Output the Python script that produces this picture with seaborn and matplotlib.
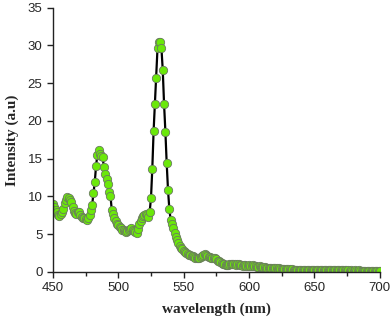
import numpy as np
import pandas as pd
import matplotlib
matplotlib.use("Agg")
import matplotlib.pyplot as plt
import seaborn as sns
from matplotlib.ticker import MultipleLocator

# emission spectrum, sampled every 1 nm from 450 to 700 nm
wavelength = np.arange(450, 701)
intensity = [
    9.0, 8.6, 8.2, 7.9, 7.6, 7.4, 7.7, 8.0, 8.3, 9.2,
    9.6, 9.9, 9.8, 9.6, 9.3, 8.6, 8.1, 7.8, 7.7, 7.9,
    8.0, 7.5, 7.3, 7.2, 7.1, 7.0, 6.9, 7.2, 7.6, 8.2,
    8.9, 10.4, 11.9, 14.1, 15.5, 16.2, 15.6, 15.4, 15.2, 13.9,
    13.0, 12.3, 11.7, 10.6, 10.1, 8.2, 7.7, 7.2, 6.8, 6.4,
    6.2, 6.0, 5.8, 5.6, 5.5, 5.4, 5.3, 5.4, 5.6, 5.7,
    5.8, 5.6, 5.4, 5.3, 5.2, 5.7, 6.3, 6.8, 7.1, 7.4,
    7.6, 7.7, 7.5, 7.3, 8.0, 9.8, 13.7, 18.7, 22.3, 25.7,
    29.7, 30.5, 30.5, 29.6, 26.7, 22.2, 18.6, 14.4, 10.9, 8.4,
    6.9, 6.3, 5.8, 5.2, 4.6, 4.2, 3.9, 3.5, 3.2, 3.0,
    2.8, 2.7, 2.5, 2.4, 2.3, 2.2, 2.1, 2.1, 2.0, 1.9,
    1.9, 1.8, 1.9, 2.0, 2.1, 2.3, 2.4, 2.3, 2.1, 2.0,
    2.0, 1.9, 1.9, 1.8, 1.8, 1.7, 1.5, 1.4, 1.3, 1.2,
    1.1, 1.0, 0.9, 0.9, 0.9, 1.0, 1.1, 1.1, 1.0, 1.0,
    0.9, 1.0, 1.0, 0.9, 0.9, 0.8, 0.9, 0.9, 0.8, 0.8,
    0.9, 0.8, 0.8, 0.9, 0.8, 0.8, 0.7, 0.7, 0.8, 0.7,
    0.6, 0.6, 0.6, 0.5, 0.5, 0.5, 0.5, 0.5, 0.5, 0.5,
    0.5, 0.5, 0.4, 0.5, 0.4, 0.4, 0.4, 0.4, 0.4, 0.4,
    0.4, 0.4, 0.3, 0.4, 0.3, 0.3, 0.3, 0.3, 0.3, 0.3,
    0.3, 0.3, 0.3, 0.3, 0.3, 0.3, 0.3, 0.3, 0.2, 0.3,
    0.3, 0.2, 0.2, 0.3, 0.2, 0.2, 0.2, 0.2, 0.2, 0.2,
    0.2, 0.2, 0.2, 0.2, 0.2, 0.2, 0.2, 0.2, 0.2, 0.2,
    0.2, 0.2, 0.2, 0.2, 0.2, 0.1, 0.2, 0.1, 0.2, 0.1,
    0.1, 0.2, 0.1, 0.1, 0.2, 0.1, 0.1, 0.1, 0.1, 0.1,
    0.1, 0.1, 0.1, 0.1, 0.1, 0.1, 0.1, 0.1, 0.1, 0.1,
    0.1,
]

df = pd.DataFrame({"wavelength": wavelength, "intensity": intensity})

sns.set_style("ticks")
plt.rcParams["font.family"] = ["Liberation Sans", "DejaVu Sans"]

fig = plt.figure(figsize=(3.92, 3.2), dpi=100)
ax = fig.add_axes([0.135, 0.15, 0.834, 0.826])

sns.lineplot(data=df, x="wavelength", y="intensity", ax=ax,
             color="black", linewidth=1.6, marker="o", markersize=6,
             markerfacecolor="#6be80a", markeredgecolor="#6a7a60",
             markeredgewidth=0.6)

ax.set_xlim(450, 700)
ax.set_ylim(0, 35)
ax.xaxis.set_major_locator(MultipleLocator(50))
ax.xaxis.set_minor_locator(MultipleLocator(25))
ax.yaxis.set_major_locator(MultipleLocator(5))
ax.tick_params(axis="both", which="major", direction="out", length=4,
               width=1, labelsize=9.5, color="#222222")
ax.tick_params(axis="x", which="minor", direction="out", length=3, width=1,
               color="#222222")
for s in ["left", "bottom"]:
    ax.spines[s].set_linewidth(1.0)
    ax.spines[s].set_color("#222222")
sns.despine(ax=ax)

ax.set_xlabel("wavelength (nm)", fontfamily="Liberation Serif",
              fontweight="bold", fontsize=11, labelpad=6)
ax.set_ylabel("Intensity (a.u)", fontfamily="Liberation Serif",
              fontweight="bold", fontsize=11, labelpad=6)

fig.savefig("out.png", dpi=100)
